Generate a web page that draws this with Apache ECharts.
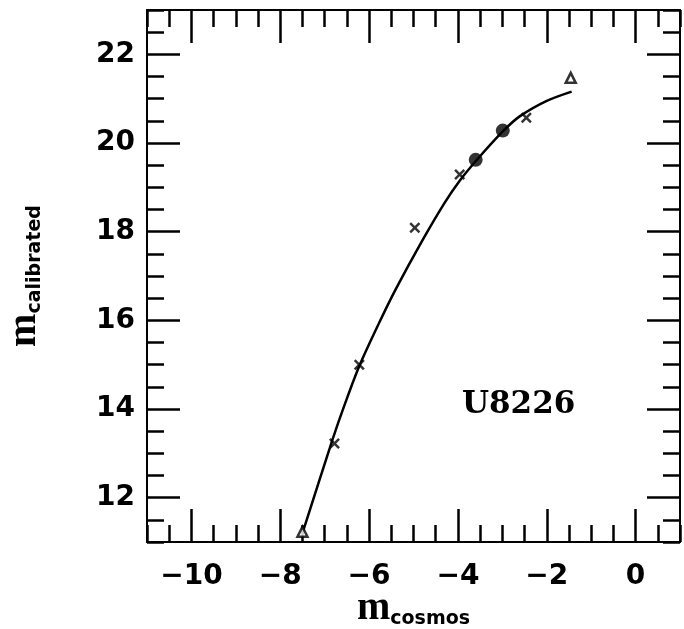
<!DOCTYPE html>
<html>
<head>
<meta charset="utf-8">
<script src="https://cdn.jsdelivr.net/npm/echarts@6/dist/echarts.min.js"></script>
<style>html,body{margin:0;padding:0;background:#fff;}#c{width:684px;height:629px;}</style>
</head>
<body>
<div id="c"></div>
<script>
// ---- data ----
var xTicks = [-10, -8, -6, -4, -2, 0];
var yTicks = [12, 14, 16, 18, 20, 22];
var crossX = [-6.78, -6.22, -4.97, -3.96, -2.46];
var crossY = [13.22, 15.00, 18.09, 19.29, 20.57];
var circleX = [-3.60, -2.99];
var circleY = [19.62, 20.28];
var triX = [-7.50, -1.46];
var triY = [11.23, 21.47];
var curveX = [-7.50, -6.82, -6.56, -6.22, -5.77, -5.39, -4.79, -4.30, -3.96, -3.59, -2.99, -2.61, -2.00, -1.44];
var curveY = [11.20, 13.32, 14.07, 14.97, 15.95, 16.72, 17.82, 18.65, 19.15, 19.60, 20.26, 20.60, 20.95, 21.16];
var galaxyName = 'U8226';

function pairs(xs, ys){ return xs.map(function(v,i){ return [v, ys[i]]; }); }

var chart = echarts.init(document.getElementById('c'), null, {renderer:'canvas'});
var black = '#000';

function majorAxis(pos, min, max, ticks, showLabel, margin){
  return {
    type:'value', position:pos, min:min, max:max, interval:0.5,
    axisLine:{show:true, onZero:false, lineStyle:{color:black, width:2}},
    axisTick:{show:true, inside:true, length:33, customValues:ticks, lineStyle:{color:black, width:2.5}},
    axisLabel:{show:showLabel, customValues:ticks, margin:margin,
      formatter:function(v){ return (v<0?'\u2212':'') + Math.abs(v); },
      fontFamily:'DejaVu Sans', fontWeight:'bold', fontSize:28, color:black},
    splitLine:{show:false}, minorTick:{show:false}, minorSplitLine:{show:false}
  };
}
function minorAxis(pos, min, max){
  return {
    type:'value', position:pos, min:min, max:max, interval:0.5,
    axisLine:{show:false, onZero:false},
    axisTick:{show:true, inside:true, length:17, lineStyle:{color:black, width:2.5}},
    axisLabel:{show:false}, splitLine:{show:false}
  };
}
var nameRich = {
  m:{fontFamily:'Liberation Serif', fontWeight:'bold', fontSize:40, color:black, verticalAlign:'bottom', lineHeight:40},
  s:{fontFamily:'DejaVu Sans', fontWeight:'bold', fontSize:19, color:black, verticalAlign:'bottom', lineHeight:24}
};

var xMain = majorAxis('bottom', -11, 1, xTicks, true, 21);
xMain.name = '{m|m}{s|cosmos}';
xMain.nameLocation = 'middle';
xMain.nameGap = 47;
xMain.nameMoveOverlap = false;
xMain.nameTextStyle = {rich:nameRich};
var yMain = majorAxis('left', 11, 23, yTicks, true, 12);
yMain.name = '{m|m}{s|calibrated}';
yMain.nameLocation = 'middle';
yMain.nameGap = 102;
yMain.nameMoveOverlap = false;
yMain.nameTextStyle = {rich:nameRich};

var crossPath = 'path://M0,1.6L1.6,0L5,3.4L8.4,0L10,1.6L6.6,5L10,8.4L8.4,10L5,6.6L1.6,10L0,8.4L3.4,5Z';

chart.setOption({
  animation:false,
  backgroundColor:'#fff',
  grid:{left:147, right:4, top:10, bottom:87, containLabel:false, outerBoundsMode:'none'},
  xAxis:[xMain, majorAxis('top', -11, 1, xTicks, false, 0), minorAxis('bottom', -11, 1), minorAxis('top', -11, 1)],
  yAxis:[yMain, majorAxis('right', 11, 23, yTicks, false, 0), minorAxis('left', 11, 23), minorAxis('right', 11, 23)],
  series:[
    {type:'line', data:pairs(curveX, curveY), smooth:0.3, showSymbol:false, symbol:'none',
     lineStyle:{color:black, width:2.5}, z:3},
    {type:'scatter', data:pairs(crossX, crossY), symbol:crossPath, symbolSize:11,
     itemStyle:{color:black}, z:4},
    {type:'scatter', data:pairs(circleX, circleY), symbol:'circle', symbolSize:14,
     itemStyle:{color:black}, z:4},
    {type:'scatter', data:pairs(triX, triY), symbol:'triangle', symbolSize:10,
     itemStyle:{color:'#fff', borderColor:black, borderWidth:2.5}, z:5}
  ],
  graphic:[{type:'text', left:462, top:389, z:10,
    style:{text:galaxyName, fontFamily:'DejaVu Serif', fontWeight:'bold', fontSize:31, fill:black}}]
});
</script>
</body>
</html>
